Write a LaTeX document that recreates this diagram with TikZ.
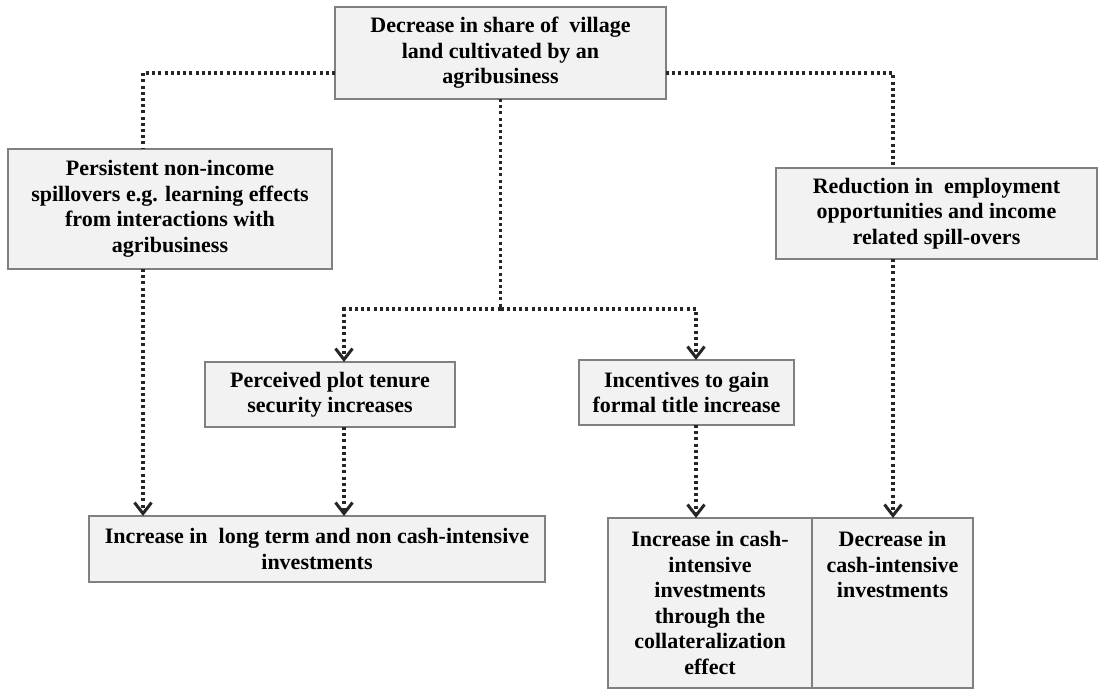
\documentclass[tikz,border=0pt]{standalone}
\usepackage{fontspec}
\setmainfont{Liberation Serif}
\usepackage{xcolor}
\usepackage{tikz}
\usetikzlibrary{arrows.meta}

\begin{document}
\begin{tikzpicture}[x=1bp,y=-1bp,
        box/.style={draw=black!50,line width=2bp,fill=black!5,align=center,inner sep=0pt,outer sep=0pt,
            font=\fontsize{22bp}{25.5bp}\selectfont\bfseries},
        link/.style={draw=black!85,line width=3.4bp,dash pattern=on 3bp off 3.2bp},
        >={Straight Barb[length=11bp,width=17bp,line width=3bp]}]
    \useasboundingbox (0,0) rectangle (1099,690);
    %\draw[help lines] (0,0) grid[step=50] (1099,690);
    \node[box,minimum width=331bp,minimum height=92bp] (top) at (500.5,53) {Decrease in share of~ village\\land cultivated by an\\agribusiness};
    \node[box,minimum width=324bp,minimum height=120bp] (persist) at (170,209) {Persistent non-income\\spillovers e.g. learning effects\\from interactions with\\agribusiness};
    \node[box,minimum width=321bp,minimum height=91bp] (reduce) at (936.5,213.5) {Reduction in~ employment\\opportunities and income\\related spill-overs};
    \node[box,minimum width=250bp,minimum height=65bp] (tenure) at (330,394.5) {Perceived plot tenure\\security increases};
    \node[box,minimum width=215bp,minimum height=65bp] (title) at (686.5,392.5) {Incentives to gain\\formal title increase};
    \node[box,minimum width=456bp,minimum height=66bp] (longterm) at (317,549) {Increase in~ long term and non cash-intensive\\investments};
    \node[box,minimum width=204bp,minimum height=170bp] (cashup) at (710,603) {Increase in cash-\\intensive\\investments\\through the\\collateralization\\effect};
    \node[box,minimum width=161bp,minimum height=170bp,anchor=west] (cashdown) at (cashup.east) {Decrease in\\cash-intensive\\investments\\\mbox{}\\\mbox{}\\\mbox{}};

    \coordinate (colA) at (143,73);
    \coordinate (colB) at (344,309);
    \coordinate (colC) at (696,309);
    \coordinate (colD) at (893,73);

    \draw[link] (top.west |- colA) -| (persist.north -| colA);
    \draw[link] (top.east |- colD) -| (reduce.north -| colD);
    \draw[link] (top.south) -- (top.south |- colB);
    \draw[link,->] (top.south |- colB) -| (tenure.north -| colB);
    \draw[link,->] (top.south |- colC) -| (title.north -| colC);
    \draw[link,->] (persist.south -| colA) -- (longterm.north -| colA);
    \draw[link,->] (tenure.south -| colB) -- (longterm.north -| colB);
    \draw[link,->] (title.south -| colC) -- (cashup.north -| colC);
    \draw[link,->] (reduce.south -| colD) -- (cashdown.north -| colD);
\end{tikzpicture}
\end{document}
